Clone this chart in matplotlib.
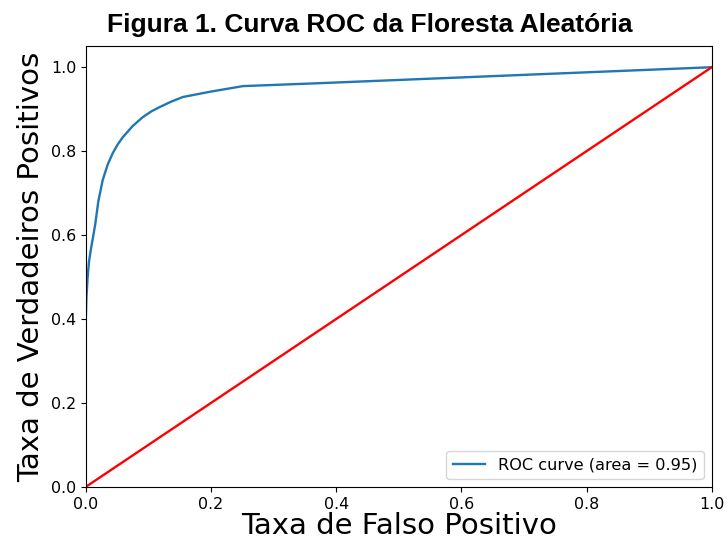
import matplotlib
matplotlib.use('Agg')
import matplotlib.pyplot as plt

# ROC curve points
fpr = [0.0, 0.0, 0.001, 0.003, 0.005, 0.008, 0.011, 0.015, 0.02, 0.027, 0.035, 0.043,
       0.051, 0.059, 0.075, 0.091, 0.105, 0.118, 0.135, 0.155, 0.2, 0.251, 0.374, 1.0]
tpr = [0.0, 0.40, 0.45, 0.50, 0.535, 0.565, 0.59, 0.625, 0.68, 0.731, 0.768, 0.795,
       0.816, 0.833, 0.86, 0.881, 0.895, 0.905, 0.917, 0.929, 0.942, 0.955, 0.962, 1.0]
roc_auc = 0.95

fig = plt.figure(figsize=(7.27, 5.44), dpi=100)
ax = fig.add_axes([0.118, 0.105, 0.861, 0.81])
ax.plot(fpr, tpr, color='#1f77b4', lw=1.7, label='ROC curve (area = %0.2f)' % roc_auc)
ax.plot([0, 1], [0, 1], color='red', lw=1.7)
ax.set_xlim(0.0, 1.0)
ax.set_ylim(0.0, 1.05)
ax.tick_params(labelsize=11.4)
ax.set_xlabel('Taxa de Falso Positivo', fontsize=21, labelpad=0)
ax.set_ylabel('Taxa de Verdadeiros Positivos', fontsize=21, labelpad=4)
ax.legend(loc='lower right', fontsize=11.6)

fig.text(0.509, 0.954, 'Figura 1. Curva ROC da Floresta Aleatória', ha='center', va='center',
         fontsize=19, fontweight='bold', family='Liberation Sans')

fig.savefig('out.png', dpi=100)
